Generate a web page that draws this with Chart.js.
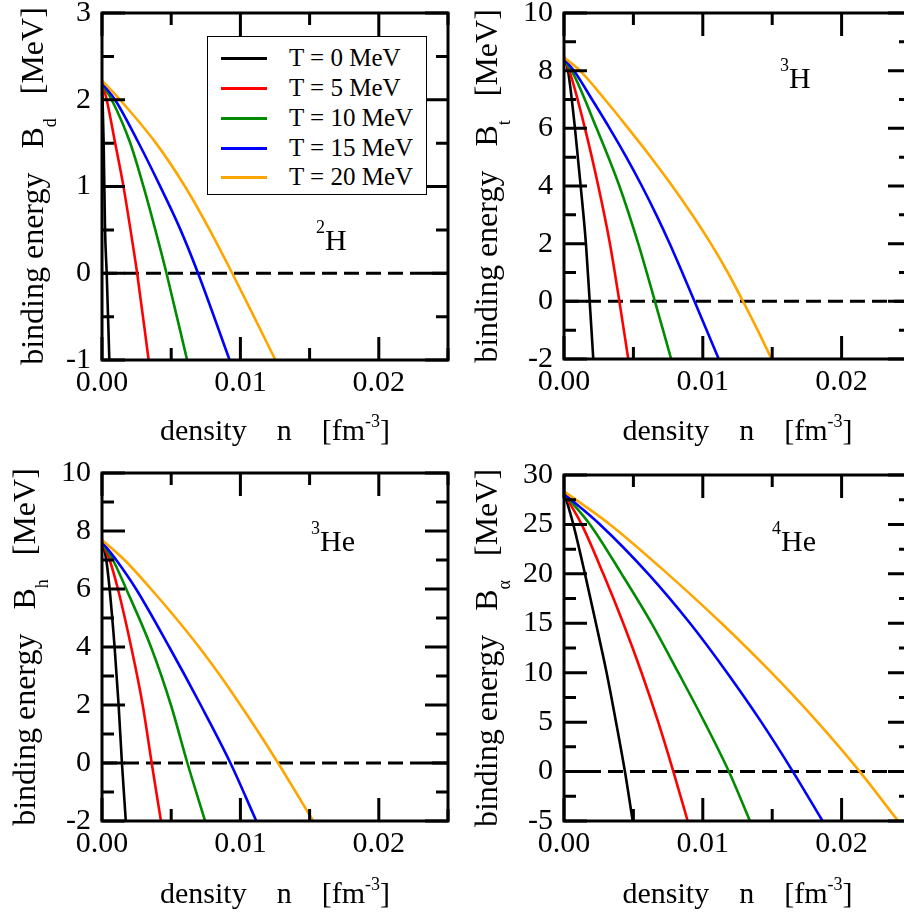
<!DOCTYPE html>
<html>
<head>
<meta charset="utf-8">
<script src="https://cdn.jsdelivr.net/npm/chart.js@4.4.1/dist/chart.umd.min.js"></script>
<style>
  html, body { margin: 0; padding: 0; background: #fff; overflow: hidden; }
  #wrap { position: relative; width: 904px; height: 916px; overflow: hidden;
          font-family: "Liberation Serif", Tinos, "Times New Roman", "DejaVu Serif", serif; color: #000; }
  .panel { position: absolute; }
  .xt { position: absolute; font-size: 30px; line-height: 36px; white-space: pre; text-align: center; }
  .yt { position: absolute; width: 420px; height: 40px; line-height: 40px; font-size: 32px;
        white-space: pre; text-align: center; transform: rotate(-90deg); }
  .sub { font-size: 18px; position: relative; top: 13px; }
  .sup { font-size: 18px; position: relative; top: -13px; }
  .nuc { position: absolute; font-size: 30px; line-height: 36px; white-space: pre; }
  .nuc .sup { top: -17px; }
  #legend { position: absolute; left: 207px; top: 36px; width: 218px; height: 157px;
            border: 1.5px solid #000; background: #fff; }
  #legend .row { position: absolute; left: 0; height: 30px; width: 100%; }
  #legend .swatch { position: absolute; left: 13px; top: 13.5px; width: 46px; height: 3px; }
  #legend .txt { position: absolute; left: 81px; top: 0; font-size: 25px; line-height: 30px; white-space: pre; }
</style>
</head>
<body>
<div id="wrap">
  <div class="panel" style="left:0;top:0;width:470px;height:420px"><canvas id="cD"></canvas></div>
  <div class="panel" style="left:452px;top:0;width:480px;height:420px"><canvas id="cT"></canvas></div>
  <div class="panel" style="left:0;top:458px;width:470px;height:420px"><canvas id="cH"></canvas></div>
  <div class="panel" style="left:452px;top:458px;width:480px;height:420px"><canvas id="cA"></canvas></div>

  <div class="xt" style="left:102px;top:412px;width:346px">density    n    [fm<span class="sup">-3</span>]</div>
  <div class="xt" style="left:564px;top:412px;width:347px">density    n    [fm<span class="sup">-3</span>]</div>
  <div class="xt" style="left:102px;top:875px;width:346px">density    n    [fm<span class="sup">-3</span>]</div>
  <div class="xt" style="left:564px;top:875px;width:347px">density    n    [fm<span class="sup">-3</span>]</div>

  <div class="yt" style="left:-178px;top:166px">binding energy   B<span class="sub">d</span>   [MeV]</div>
  <div class="yt" style="left:276px;top:166px">binding energy   B<span class="sub">t</span>   [MeV]</div>
  <div class="yt" style="left:-186px;top:627px">binding energy   B<span class="sub">h</span>   [MeV]</div>
  <div class="yt" style="left:276px;top:628px">binding energy   B<span class="sub">α</span>   [MeV]</div>

  <div class="nuc" style="left:316px;top:222px"><span class="sup">2</span>H</div>
  <div class="nuc" style="left:780px;top:60px"><span class="sup">3</span>H</div>
  <div class="nuc" style="left:311px;top:523px"><span class="sup">3</span>He</div>
  <div class="nuc" style="left:772px;top:523px"><span class="sup">4</span>He</div>

  <div id="legend"></div>
</div>

<script>
// temperatures of the curves [MeV]
const temperatures = [0, 5, 10, 15, 20];
const curveColors = ['#000000', '#ff0000', '#008b00', '#0000ff', '#ffa500'];

// [density n (fm^-3), binding energy (MeV)]
// deuteron 2H
const H2_T0  = [[0, 2.22], [0.00012, 1.5], [0.00022, 0.5], [0.00034, 0], [0.00053, -1]];
const H2_T5  = [[0, 2.2], [0.00034, 2.0], [0.00094, 1.51], [0.00154, 1.01], [0.00204, 0.52], [0.00254, 0], [0.00337, -1]];
const H2_T10 = [[0, 2.19], [0.0007, 2.0], [0.00202, 1.51], [0.00298, 1.01], [0.00382, 0.52], [0.00466, 0], [0.00615, -1]];
const H2_T15 = [[0, 2.19], [0.00094, 2.0], [0.00262, 1.51], [0.00418, 1.01], [0.00562, 0.52], [0.00694, 0], [0.00922, -1]];
const H2_T20 = [[0, 2.22], [0.0013, 2.0], [0.0039, 1.5], [0.006, 1.0], [0.00778, 0.5], [0.00941, 0], [0.01098, -0.5], [0.01253, -1]];

// triton 3H
const H3_T0  = [[0, 8.48], [0.00029, 8], [0.00079, 6], [0.0012, 4], [0.00158, 2], [0.00185, 0], [0.00211, -2]];
const H3_T5  = [[0, 8.4], [0.00038, 8], [0.00151, 6], [0.00247, 4], [0.00331, 2], [0.00399, 0], [0.00463, -2]];
const H3_T10 = [[0, 8.35], [0.00055, 8], [0.00235, 6], [0.00399, 4], [0.00535, 2], [0.00655, 0], [0.00772, -2]];
const H3_T15 = [[0, 8.4], [0.00072, 8], [0.00202, 7], [0.00329, 6], [0.00449, 5], [0.00561, 4], [0.00665, 3], [0.00762, 2], [0.00852, 1], [0.0094, 0], [0.01115, -2]];
const H3_T20 = [[0, 8.46], [0.00115, 8], [0.00295, 7], [0.00463, 6], [0.00626, 5], [0.0078, 4], [0.00924, 3], [0.01058, 2], [0.0118, 1], [0.0129, 0], [0.01395, -1], [0.01496, -2]];

// helion 3He
const He3_T0  = [[0, 7.7], [0.00031, 7], [0.00055, 6], [0.00091, 4], [0.0012, 2], [0.00144, 0], [0.00172, -2]];
const He3_T5  = [[0, 7.6], [0.00055, 7], [0.00115, 6], [0.00211, 4], [0.00294, 2], [0.00359, 0], [0.00426, -2]];
const He3_T10 = [[0, 7.6], [0.00079, 7], [0.00175, 6], [0.00354, 4], [0.00498, 2], [0.00617, 0], [0.00745, -2]];
const He3_T15 = [[0, 7.62], [0.00103, 7], [0.00246, 6], [0.00486, 4], [0.00713, 2], [0.00928, 0], [0.01115, -2]];
const He3_T20 = [[0, 7.69], [0.00163, 7], [0.00354, 6], [0.00533, 5], [0.00701, 4], [0.00856, 3], [0.01, 2], [0.01139, 1], [0.01272, 0], [0.014, -1], [0.01526, -2]];

// alpha 4He
const He4_T0  = [[0, 28.3], [0.00067, 25], [0.00151, 20], [0.0023, 15], [0.00307, 10], [0.00375, 5], [0.00439, 0], [0.00495, -5]];
const He4_T5  = [[0, 28.1], [0.00127, 25], [0.00283, 20], [0.00427, 15], [0.00559, 10], [0.00679, 5], [0.00788, 0], [0.00891, -5]];
const He4_T10 = [[0, 28.1], [0.00187, 25], [0.00415, 20], [0.00631, 15], [0.00824, 10], [0.01012, 5], [0.01188, 0], [0.0134, -5]];
const He4_T15 = [[0, 28.1], [0.00259, 25], [0.00607, 20], [0.00908, 15], [0.01175, 10], [0.01422, 5], [0.01649, 0], [0.01863, -5]];
const He4_T20 = [[0, 28.35], [0.00331, 25], [0.00747, 20], [0.01135, 15], [0.01495, 10], [0.01827, 5], [0.02131, 0], [0.02407, -5]];

const zeroLine = [[0, 0], [0.025, 0]];

const legendLabels = temperatures.map(t => 'T = ' + t + ' MeV');

function isMajor(v, step) {
  const r = v / step;
  return Math.abs(r - Math.round(r)) < 1e-6;
}

// frame with inward ticks on all four sides (grace style)
const framePlugin = {
  id: 'frame',
  afterDraw(chart, args, o) {
    const { ctx, chartArea: a } = chart;
    const xs = chart.scales.x, ys = chart.scales.y;
    ctx.save();
    ctx.strokeStyle = '#000';
    ctx.lineWidth = 3;
    ctx.beginPath();
    xs.ticks.forEach(t => {
      const p = xs.getPixelForValue(t.value);
      const len = isMajor(t.value, o.xMajor) ? 23 : 12;
      ctx.moveTo(p, a.bottom); ctx.lineTo(p, a.bottom - len);
      ctx.moveTo(p, a.top); ctx.lineTo(p, a.top + len);
    });
    ys.ticks.forEach(t => {
      const p = ys.getPixelForValue(t.value);
      const len = isMajor(t.value, o.yMajor) ? 23 : 12;
      ctx.moveTo(a.left, p); ctx.lineTo(a.left + len, p);
      ctx.moveTo(a.right, p); ctx.lineTo(a.right - len, p);
    });
    ctx.stroke();
    ctx.strokeRect(a.left, a.top, a.right - a.left, a.bottom - a.top);
    ctx.restore();
  }
};

Chart.defaults.font.family = '"Liberation Serif", Tinos, "Times New Roman", "DejaVu Serif", serif';
Chart.defaults.font.size = 30;
Chart.defaults.color = '#000';

function makePanel(id, series, yMin, yMax, yStep, yMajor, yAxisWidth, padTop, padRight, xAxisHeight) {
  const datasets = series.map((s, i) => ({
    label: legendLabels[i],
    data: s.map(p => ({ x: p[0], y: p[1] })),
    borderColor: curveColors[i],
    borderWidth: 2.6,
    pointRadius: 0,
    fill: false,
    cubicInterpolationMode: 'monotone',
    order: series.length - 1 - i
  }));
  datasets.push({
    label: 'zero',
    data: zeroLine.map(p => ({ x: p[0], y: p[1] })),
    borderColor: '#000',
    borderWidth: 3,
    borderDash: [15, 7],
    pointRadius: 0,
    fill: false,
    order: 10
  });

  new Chart(document.getElementById(id), {
    type: 'line',
    data: { datasets },
    options: {
      responsive: true,
      maintainAspectRatio: false,
      animation: false,
      layout: { padding: { left: 0, top: padTop, right: padRight, bottom: 0 } },
      plugins: {
        legend: { display: false },
        tooltip: { enabled: false },
        frame: { xMajor: 0.01, yMajor: yMajor }
      },
      scales: {
        x: {
          type: 'linear', min: 0, max: 0.025,
          grid: { display: false, drawTicks: false },
          border: { display: false },
          ticks: {
            stepSize: 0.005, padding: 5, maxRotation: 0, autoSkip: false,
            callback: v => isMajor(v, 0.01) && v < 0.0249 ? v.toFixed(2) : ''
          },
          afterFit: s => { s.height = xAxisHeight; s.paddingLeft = 0; s.paddingRight = 0; }
        },
        y: {
          type: 'linear', min: yMin, max: yMax,
          grid: { display: false, drawTicks: false },
          border: { display: false },
          ticks: {
            stepSize: yStep, padding: 11, autoSkip: false,
            callback: v => isMajor(v, yMajor) ? String(Math.round(v)) : ''
          },
          afterFit: s => { s.width = yAxisWidth; s.paddingTop = 0; s.paddingBottom = 0; }
        }
      }
    },
    plugins: [framePlugin]
  });
}

makePanel('cD', [H2_T0, H2_T5, H2_T10, H2_T15, H2_T20], -1, 3, 0.5, 1, 102, 13, 22, 60);
makePanel('cT', [H3_T0, H3_T5, H3_T10, H3_T15, H3_T20], -2, 10, 1, 2, 112, 13, 21, 61);
makePanel('cH', [He3_T0, He3_T5, He3_T10, He3_T15, He3_T20], -2, 10, 1, 2, 102, 15, 22, 57);
makePanel('cA', [He4_T0, He4_T5, He4_T10, He4_T15, He4_T20], -5, 30, 2.5, 5, 112, 17, 21, 57);

// legend box of the first panel
const legend = document.getElementById('legend');
const rowCenters = [21, 51, 81, 111, 140];
legendLabels.forEach((txt, i) => {
  const row = document.createElement('div');
  row.className = 'row';
  row.style.top = (rowCenters[i] - 15) + 'px';
  const sw = document.createElement('div');
  sw.className = 'swatch';
  sw.style.background = curveColors[i];
  const t = document.createElement('div');
  t.className = 'txt';
  t.textContent = txt;
  row.appendChild(sw);
  row.appendChild(t);
  legend.appendChild(row);
});
</script>
</body>
</html>
